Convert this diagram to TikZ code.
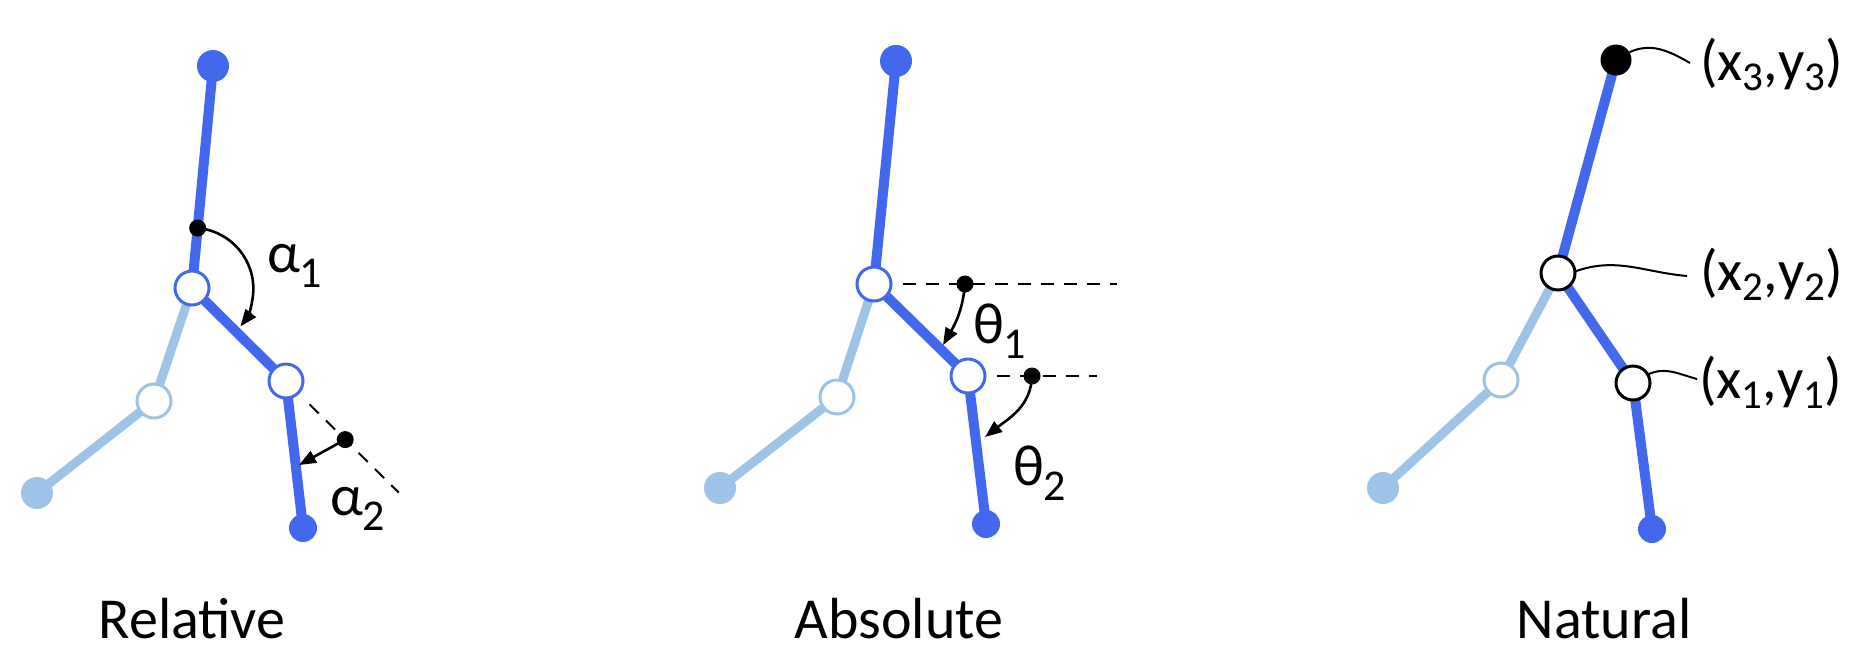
\documentclass[tikz,border=0pt]{standalone}
\usepackage{fontspec}
\setmainfont{Carlito}
\usetikzlibrary{arrows.meta,backgrounds,calc}
\definecolor{dkblue}{RGB}{66,104,238}
\definecolor{ltblue}{RGB}{157,195,230}
\newcommand{\sbs}[1]{\raisebox{-15pt}{\fontsize{44}{50}\selectfont #1}}
\newcommand{\sbc}[1]{\raisebox{-10pt}{\fontsize{41}{46}\selectfont #1}}
\begin{document}
\begin{tikzpicture}[x=1pt,y=-1pt,
  every node/.style={inner sep=0pt,outer sep=0pt},
  txt/.style={font=\fontsize{58}{64}\selectfont},
  lbl/.style={txt,anchor=base west},
  ttl/.style={txt,anchor=base},
  dk/.style={draw=dkblue,line width=10pt},
  lt/.style={draw=ltblue,line width=9pt},
  jdk/.style={circle,draw=dkblue,fill=white,line width=3pt,minimum size=34pt},
  jlt/.style={circle,draw=ltblue,fill=white,line width=3pt,minimum size=34pt},
  jbk/.style={circle,draw=black,fill=white,line width=3pt,minimum size=34pt},
  enddk/.style={circle,fill=dkblue,minimum size=#1},
  endlt/.style={circle,fill=ltblue,minimum size=#1},
  endbk/.style={circle,fill=black,minimum size=#1},
  angdot/.style={circle,fill=black,minimum size=17pt},
  arr/.style={-{Triangle[length=17pt,width=13pt]},line width=2.6pt},
  refline/.style={dash pattern=on 13pt off 10pt,line width=2pt},
  wave/.style={line width=2pt}]
\useasboundingbox (0,0) rectangle (1850,649);

% ---------- Panel 1: Relative ----------
\node[enddk=32pt] (p1top) at (213,66) {};
\node[jdk] (p1j1) at (192,288) {};
\node[jdk] (p1j2) at (286,381) {};
\node[enddk=28pt] (p1bot) at (303,528) {};
\node[jlt] (p1lj) at (154,401) {};
\node[endlt=32pt] (p1le) at (37,493) {};
\begin{scope}[on background layer]
  \draw[lt] (p1j1.center) -- (p1lj.center) -- (p1le.center);
  \draw[dk] (p1top.center) -- (p1j1.center) -- (p1j2.center) -- (p1bot.center);
\end{scope}
\draw[refline] ($(p1j1.center)!1.25!(p1j2.center)$) -- ($(p1j1.center)!2.2!(p1j2.center)$);
\node[angdot] (p1d1) at ($(p1j1.center)!0.27!(p1top.center)$) {};
\node[angdot] (p1d2) at ($(p1j1.center)!1.63!(p1j2.center)$) {};
\draw[arr] (p1d1.center) arc[start angle=85,end angle=-38,radius=61pt];
\coordinate (p1t2) at (299,465);
\draw[arr] (p1d2.center) -- (p1t2);
\node[lbl] (p1a1) at (267,272) {α\sbs{1}};
\node[lbl] (p1a2) at (330,515) {α\sbs{2}};
\node[ttl] (p1title) at (192,638) {Relative};

% ---------- Panel 2: Absolute ----------
\node[enddk=32pt] (p2top) at (896,61) {};
\node[jdk] (p2j1) at (874,284) {};
\node[jdk] (p2j2) at (968,376) {};
\node[enddk=28pt] (p2bot) at (986,524) {};
\node[jlt] (p2lj) at (837,397) {};
\node[endlt=32pt] (p2le) at (720,488) {};
\begin{scope}[on background layer]
  \draw[lt] (p2j1.center) -- (p2lj.center) -- (p2le.center);
  \draw[dk] (p2top.center) -- (p2j1.center) -- (p2j2.center) -- (p2bot.center);
\end{scope}
\draw[refline] ([xshift=12pt]p2j1.east) -- ++(214,0);
\draw[refline] ([xshift=12pt]p2j2.east) -- ++(100,0);
\node[angdot] (p2d1) at (965,284) {};
\node[angdot] (p2d2) at (1032,376) {};
\coordinate (p2t1) at (943,345);
\coordinate (p2t2) at (985,437);
\draw[arr] (p2d1.center) to[out=-95,in=60] (p2t1);
\draw[arr] (p2d2.center) to[out=-92,in=38] (p2t2);
\node[lbl] (p2h1) at (973,343) {θ\sbs{1}};
\node[lbl] (p2h2) at (1013,485) {θ\sbs{2}};
\node[ttl] (p2title) at (899,638) {Absolute};

% ---------- Panel 3: Natural ----------
\node[endbk=31pt] (p3top) at (1616,60) {};
\node[jbk] (p3j2) at (1558,273) {};
\node[jbk] (p3j1) at (1633,383) {};
\node[enddk=28pt] (p3bot) at (1652,529) {};
\node[jlt] (p3lj) at (1501,380) {};
\node[endlt=32pt] (p3le) at (1383,488) {};
\begin{scope}[on background layer]
  \draw[lt] (p3j2.center) -- (p3lj.center) -- (p3le.center);
  \draw[dk] (p3top.center) -- (p3j2.center) -- (p3j1.center) -- (p3bot.center);
\end{scope}
\node[lbl] (p3l3) at (1700,80) {(x\sbc{3},y\sbc{3})};
\node[lbl] (p3l2) at (1700,290) {(x\sbc{2},y\sbc{2})};
\node[lbl] (p3l1) at (1699,398) {(x\sbc{1},y\sbc{1})};
\draw[wave] (p3top.30) to[out=25,in=150] ([xshift=-10pt,yshift=17pt]p3l3.base west);
\draw[wave] (p3j2.5) to[out=20,in=175] ([xshift=-13pt,yshift=14pt]p3l2.base west);
\draw[wave] (p3j1.30) to[out=25,in=165] ([xshift=-2pt,yshift=19pt]p3l1.base west);
\node[ttl] (p3title) at (1604,638) {Natural};
\end{tikzpicture}
\end{document}
